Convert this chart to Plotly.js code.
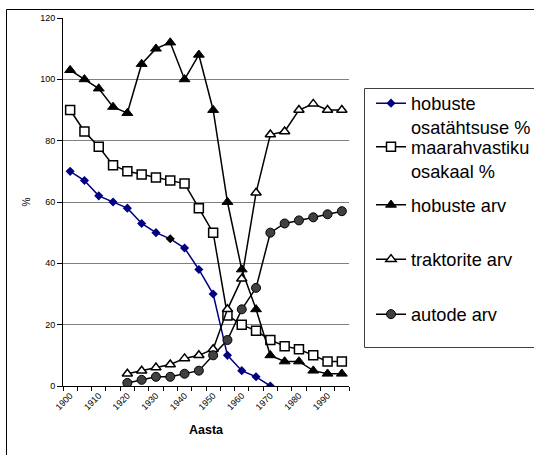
<!DOCTYPE html>
<html><head><meta charset="utf-8">
<script src="https://cdn.plot.ly/plotly-3.0.1.min.js"></script>
<style>html,body{margin:0;padding:0;background:#fff;} #chart{width:534px;height:455px;}</style>
</head><body><div id="chart"></div>
<script>
// Categories (years)
const years = [1900,1905,1910,1915,1920,1925,1930,1935,1940,1945,1950,1955,1960,1965,1970,1975,1980,1985,1990,1995];
const tickYears = [1900,1910,1920,1930,1940,1950,1960,1970,1980,1990];
// Series values
const hobusteOsatahtsus = [70,67,62,60,58,53,50,48,45,38,30,10,5,3,0];           // 1900-1970
const maarahvastikuOsakaal = [90,83,78,72,70,69,68,67,66,58,50,23,20,18,15,13,12,10,8,8];
const hobusteArv = [103,100,97,91,89,105,110,112,100,108,90,60,38,25,10,8,8,5,4,4];
const traktoriteArv = [4,5,6,7,9,10,12,25,35,63,82,83,90,92,90,90];              // 1920-1995
const autodeArv = [1,2,3,3,4,5,10,15,25,32,50,53,54,55,56,57];                   // 1920-1995
const seriesNames = ['hobuste<br>osatähtsuse %','maarahvastiku<br>osakaal %','hobuste arv','traktorite arv','autode arv'];

// geometry helpers (plot area in px)
const W = 534, H = 455, L = 63, R = 185, T = 18, B = 69;
const PW = W - L - R, PH = H - T - B;
const px = x => (x - L) / PW;
const py = y => 1 - (y - T) / PH;

const FONT = 'Liberation Sans, Arial, sans-serif';

const diamondColors = hobusteOsatahtsus.map((v, i) => i === 7 ? '#000000' : '#000080');

const traces = [
  {x: years.slice(0, hobusteOsatahtsus.length), y: hobusteOsatahtsus, name: seriesNames[0], legend: 'legend',
   mode: 'lines+markers', line: {color: '#000080', width: 1.5},
   marker: {symbol: 'diamond', size: 7, color: diamondColors, line: {width: 0}}},
  {x: years, y: maarahvastikuOsakaal, name: seriesNames[1], legend: 'legend2',
   mode: 'lines+markers', line: {color: '#000', width: 1.5},
   marker: {symbol: 'square', size: 9, color: '#fff', line: {color: '#000', width: 1.5}}},
  {x: years, y: hobusteArv, name: seriesNames[2], legend: 'legend3',
   mode: 'lines+markers', line: {color: '#000', width: 1.5},
   marker: {symbol: 'triangle-up', size: 9.5, color: '#000', line: {color: '#000', width: 1}}},
  {x: years.slice(years.length - traktoriteArv.length), y: traktoriteArv, name: seriesNames[3], legend: 'legend4',
   mode: 'lines+markers', line: {color: '#000', width: 1.5},
   marker: {symbol: 'triangle-up', size: 9, color: '#fff', line: {color: '#000', width: 1.5}}},
  {x: years.slice(years.length - autodeArv.length), y: autodeArv, name: seriesNames[4], legend: 'legend5',
   mode: 'lines+markers', line: {color: '#000', width: 1.5},
   marker: {symbol: 'circle', size: 9, color: '#404040', line: {color: '#000', width: 1}}}
];

const legendTops = [84.8, 128.5, 186.5, 240.8, 295.8];
const legendBase = {x: px(371), xanchor: 'left', yanchor: 'top', bgcolor: 'rgba(0,0,0,0)', borderwidth: 0,
  font: {family: FONT, size: 18.2, color: '#000'}, valign: 'top', itemclick: false};

const layout = {
  width: W, height: H,
  margin: {l: L, r: R, t: T, b: B, pad: 0, autoexpand: false},
  paper_bgcolor: '#fff', plot_bgcolor: '#fff',
  font: {family: FONT, color: '#000'},
  showlegend: true,
  xaxis: {
    range: [1897.5, 1997.5], tickmode: 'array', tickvals: tickYears, ticktext: tickYears.map(String),
    tickangle: -45, ticks: '', showline: true, linecolor: '#000', linewidth: 1,
    showgrid: false, zeroline: false, tickfont: {size: 9, family: FONT, color: '#000'},
    minor: {ticks: 'outside', tick0: 1897.5, dtick: 5, ticklen: 4, tickcolor: '#000', tickwidth: 1, showgrid: false},
    title: {text: '<b>Aasta</b>', font: {size: 12.5, family: FONT, color: '#000'}}
  },
  yaxis: {
    range: [0, 120], tick0: 0, dtick: 20, ticks: 'outside', ticklen: 5, tickcolor: '#000',
    showline: true, linecolor: '#000', linewidth: 1, gridcolor: '#808080', gridwidth: 1,
    zeroline: false, tickfont: {size: 9, family: FONT, color: '#000'},
    title: {text: '%', font: {size: 10, family: FONT, color: '#000'}, standoff: 7}
  },
  shapes: [
    {type: 'rect', xref: 'paper', yref: 'paper', x0: px(6.5), x1: px(800), y0: py(9.5), y1: py(800),
     line: {color: '#000', width: 1}, fillcolor: 'rgba(0,0,0,0)', layer: 'below'},
    {type: 'rect', xref: 'paper', yref: 'paper', x0: px(364.5), x1: px(800), y0: py(88.5), y1: py(347.5),
     line: {color: '#404040', width: 1}, fillcolor: 'rgba(0,0,0,0)', layer: 'above'}
  ]
};
['legend','legend2','legend3','legend4','legend5'].forEach((k, i) => {
  layout[k] = Object.assign({}, legendBase, {y: py(legendTops[i])});
});

Plotly.newPlot('chart', traces, layout, {staticPlot: true, displayModeBar: false});
</script>
</body></html>
